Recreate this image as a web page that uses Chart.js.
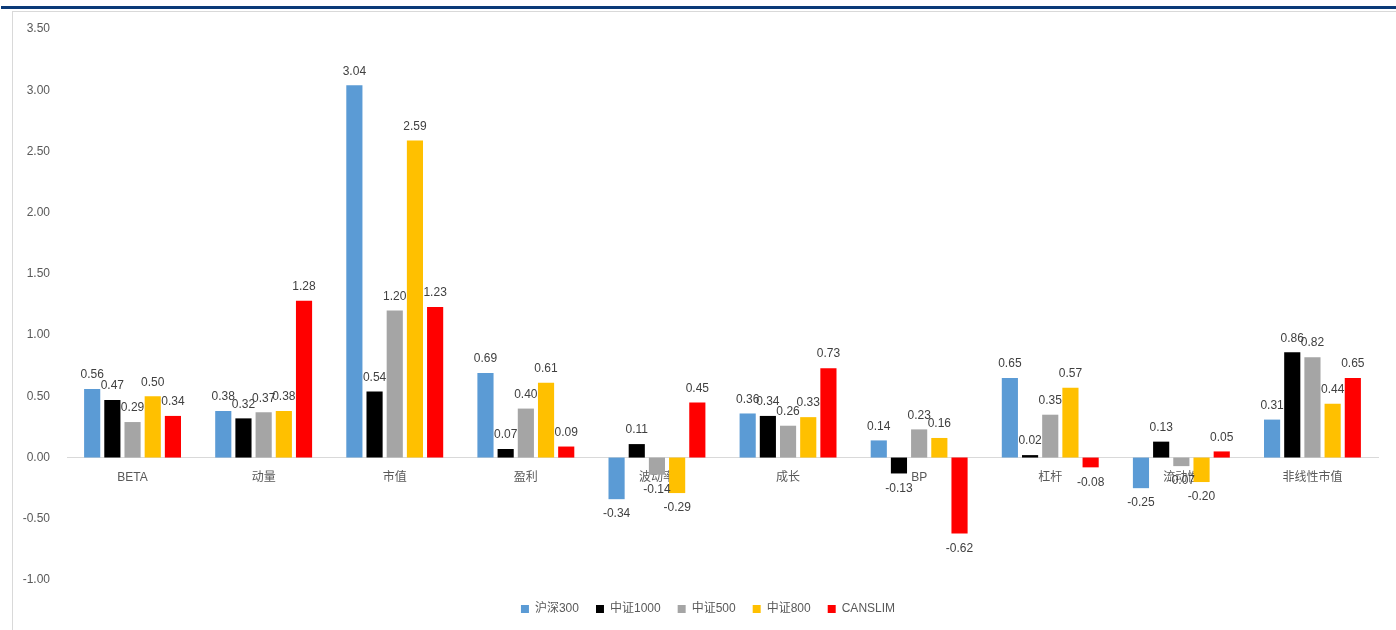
<!DOCTYPE html>
<html>
<head>
<meta charset="utf-8">
<script src="https://cdn.jsdelivr.net/npm/chart.js@4/dist/chart.umd.min.js"></script>
<style>
  html, body { margin: 0; padding: 0; background: #fff; }
  #wrap { position: relative; width: 1396px; height: 630px; overflow: hidden; }
  #topbar { position: absolute; left: 1px; top: 6px; width: 1395px; height: 3px; background: #0B3A78; }
  #frameTop { position: absolute; left: 12px; top: 11px; width: 1384px; height: 1px; background: #D9D9D9; }
  #frameLeft { position: absolute; left: 12px; top: 11px; width: 1px; height: 619px; background: #D9D9D9; }
  canvas { position: absolute; left: 0; top: 0; }
</style>
</head>
<body>
<div id="wrap">
  <div id="topbar"></div>
  <div id="frameTop"></div>
  <div id="frameLeft"></div>
  <canvas id="c" width="1396" height="630"></canvas>
</div>
<script>
const categories = ['BETA', '动量', '市值', '盈利', '波动率', '成长', 'BP', '杠杆', '流动性', '非线性市值'];
const seriesNames = ['沪深300', '中证1000', '中证500', '中证800', 'CANSLIM'];
const hs300   = [0.56, 0.38, 3.04, 0.69, -0.34, 0.36, 0.14, 0.65, -0.25, 0.31];
const zz1000  = [0.47, 0.32, 0.54, 0.07, 0.11, 0.34, -0.13, 0.02, 0.13, 0.86];
const zz500   = [0.29, 0.37, 1.20, 0.40, -0.14, 0.26, 0.23, 0.35, -0.07, 0.82];
const zz800   = [0.50, 0.38, 2.59, 0.61, -0.29, 0.33, 0.16, 0.57, -0.20, 0.44];
const canslim = [0.34, 1.28, 1.23, 0.09, 0.45, 0.73, -0.62, -0.08, 0.05, 0.65];
const yTicks  = [-1.0, -0.5, 0.0, 0.5, 1.0, 1.5, 2.0, 2.5, 3.0, 3.5];

const colors = ['#5B9BD5', '#000000', '#A5A5A5', '#FFC000', '#FF0000'];
const seriesValues = [hs300, zz1000, zz500, zz800, canslim];

const FONT = "'Liberation Sans', 'Noto Sans CJK SC', sans-serif";

const valueLabels = {
  id: 'valueLabels',
  afterDatasetsDraw(chart) {
    const ctx = chart.ctx;
    ctx.save();
    ctx.font = '12px ' + FONT;
    ctx.fillStyle = '#404040';
    ctx.textAlign = 'center';
    ctx.textBaseline = 'middle';
    chart.data.datasets.forEach((ds, i) => {
      const meta = chart.getDatasetMeta(i);
      meta.data.forEach((bar, j) => {
        const v = ds.data[j];
        const y = v >= 0 ? bar.y - 14 : bar.y + 15;
        ctx.fillText(v.toFixed(2), bar.x, y);
      });
    });
    ctx.restore();
  }
};

const legendShift = {
  id: 'legendShift',
  afterLayout(chart) {
    const lg = chart.legend;
    if (lg) { lg.left += 19; lg.right += 19; }
  }
};

new Chart(document.getElementById('c'), {
  type: 'bar',
  data: {
    labels: categories,
    datasets: seriesNames.map((n, i) => ({
      label: n,
      data: seriesValues[i],
      backgroundColor: colors[i],
      borderWidth: 0,
      categoryPercentage: 0.77,
      barPercentage: 0.8
    }))
  },
  options: {
    responsive: false,
    animation: false,
    layout: { padding: { left: 0, right: 18, top: 29, bottom: 5 } },
    plugins: {
      tooltip: { enabled: false },
      legend: {
        position: 'bottom',
        labels: {
          boxWidth: 8,
          boxHeight: 8,
          padding: 17,
          color: '#595959',
          font: { size: 12, family: FONT }
        }
      }
    },
    scales: {
      x: {
        position: { y: 0 },
        grid: { display: false, drawTicks: false },
        border: { display: true, color: '#D9D9D9', width: 1 },
        ticks: { color: '#595959', padding: 13, font: { size: 12, family: FONT }, maxRotation: 0 }
      },
      x2: {
        type: 'category',
        labels: categories,
        position: 'bottom',
        display: true,
        grid: { display: false, drawTicks: false },
        border: { display: false },
        ticks: { display: false },
        afterFit(s) { s.height = 6; }
      },
      y: {
        min: -1,
        max: 3.5,
        afterFit(s) { s.width = 67; },
        afterBuildTicks(s) { s.ticks = yTicks.map(v => ({ value: v })); },
        grid: { display: false, drawTicks: false },
        border: { display: false },
        ticks: {
          color: '#595959',
          padding: 17,
          font: { size: 12, family: FONT },
          callback: v => Number(v).toFixed(2)
        }
      }
    }
  },
  plugins: [valueLabels, legendShift]
});
</script>
</body>
</html>
